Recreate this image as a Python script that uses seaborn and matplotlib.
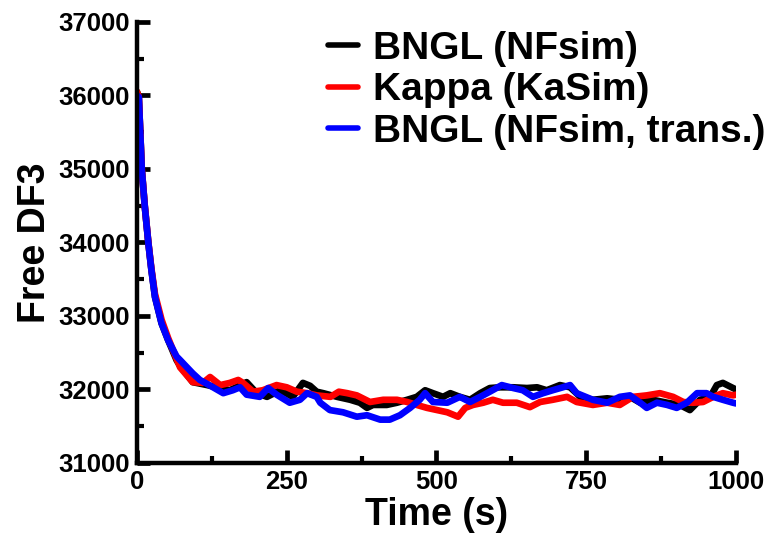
import matplotlib
matplotlib.use("Agg")
import matplotlib.pyplot as plt
import seaborn as sns
import pandas as pd

# Free DF3 trajectories from the three simulators
bngl_t = [0, 3, 8, 13, 19, 24, 30, 41, 52, 66,
          72, 93, 117, 155, 183, 200, 217, 239, 260, 277,
          289, 300, 311, 334, 356, 372, 384, 394, 417, 434,
          451, 467, 481, 494, 511, 523, 539, 556, 573, 589,
          606, 628, 651, 668, 684, 706, 723, 740, 761, 785,
          806, 823, 840, 861, 885, 906, 923, 940, 957, 968,
          978, 995, 1000]
bngl_v = [36050, 35980, 34990, 34490, 33990, 33630, 33260, 32900, 32670, 32400,
          32320, 32100, 32060, 31990, 32100, 31950, 31900, 31990, 31900, 32090,
          32050, 31970, 31950, 31900, 31860, 31820, 31750, 31790, 31790, 31820,
          31860, 31900, 31990, 31950, 31900, 31950, 31900, 31860, 31950, 32020,
          32030, 32030, 32020, 32030, 31990, 32060, 32030, 31900, 31860, 31880,
          31860, 31900, 31820, 31860, 31820, 31790, 31720, 31860, 31900, 32060,
          32090, 32020, 32000]

kappa_t = [0, 3, 8, 13, 19, 24, 30, 41, 52, 66,
           72, 93, 110, 122, 139, 155, 169, 177, 194, 210,
           233, 250, 267, 284, 300, 323, 337, 351, 367, 389,
           411, 434, 451, 467, 484, 501, 518, 536, 548, 561,
           578, 594, 611, 634, 656, 673, 694, 718, 734, 761,
           785, 806, 828, 851, 873, 895, 912, 928, 945, 962,
           978, 995, 1000]
kappa_v = [36050, 35980, 35000, 34500, 34000, 33650, 33300, 32950, 32700, 32420,
           32300, 32100, 32090, 32170, 32060, 32090, 32130, 32090, 31970, 31990,
           32060, 32030, 31970, 31950, 31920, 31900, 31970, 31950, 31920, 31830,
           31860, 31860, 31830, 31790, 31750, 31720, 31690, 31630, 31750, 31790,
           31820, 31860, 31820, 31820, 31760, 31830, 31860, 31900, 31830, 31790,
           31820, 31790, 31900, 31920, 31950, 31900, 31830, 31820, 31830, 31900,
           31950, 31920, 31930]

trans_t = [0, 3, 8, 13, 19, 24, 30, 41, 52, 66,
           72, 93, 105, 127, 144, 160, 172, 183, 205, 219,
           233, 255, 272, 284, 300, 306, 322, 344, 367, 384,
           406, 422, 439, 456, 472, 481, 494, 518, 539, 556,
           573, 589, 609, 628, 644, 661, 678, 694, 711, 723,
           734, 761, 785, 806, 823, 840, 851, 868, 885, 901,
           918, 935, 951, 962, 978, 995, 1000]
trans_v = [36000, 35980, 34990, 34490, 33990, 33630, 33260, 32900, 32670, 32450,
           32400, 32220, 32130, 32030, 31950, 31990, 32030, 31930, 31900, 32020,
           31930, 31820, 31860, 31950, 31900, 31820, 31720, 31690, 31630, 31650,
           31590, 31590, 31650, 31750, 31860, 31950, 31830, 31820, 31900, 31830,
           31900, 31970, 32060, 32020, 31990, 31900, 31950, 31990, 32030, 32060,
           31950, 31860, 31820, 31900, 31920, 31820, 31750, 31820, 31790, 31750,
           31820, 31950, 31950, 31900, 31860, 31820, 31810]

labels = ["BNGL (NFsim)", "Kappa (KaSim)", "BNGL (NFsim, trans.)"]
colors = ["#000000", "#ff0000", "#0000ff"]

sns.set_style("ticks")
plt.rcParams["font.family"] = ["Liberation Sans", "DejaVu Sans"]
plt.rcParams["font.weight"] = "bold"
plt.rcParams["text.color"] = "black"
plt.rcParams["axes.labelcolor"] = "black"
plt.rcParams["xtick.color"] = "black"
plt.rcParams["ytick.color"] = "black"

fig = plt.figure(figsize=(7.66, 5.34), dpi=100)
ax = fig.add_axes([137 / 766, 1 - 463 / 534, (736 - 137) / 766, (463 - 22) / 534])

for t, v, lab, c in zip([bngl_t, kappa_t, trans_t], [bngl_v, kappa_v, trans_v], labels, colors):
    df = pd.DataFrame({"Time (s)": t, "Free DF3": v})
    sns.lineplot(data=df, x="Time (s)", y="Free DF3", color=c, lw=4.8,
                 label=lab, ax=ax, sort=False, estimator=None)

ax.set_xlim(0, 1000)
ax.set_ylim(31000, 37000)
ax.set_xticks([0, 250, 500, 750, 1000])
ax.set_xticks([125, 375, 625, 875], minor=True)
ax.set_yticks(range(31000, 37001, 1000))
ax.set_yticks(range(31500, 37000, 1000), minor=True)

for side in ["top", "right"]:
    ax.spines[side].set_visible(False)
for side in ["left", "bottom"]:
    ax.spines[side].set_linewidth(3.2)
    ax.spines[side].set_color("black")

ax.tick_params(which="major", direction="in", length=9.5, width=3.4,
               labelsize=18.5, pad=5, colors="black", labelcolor="black")
ax.tick_params(which="minor", direction="in", length=5, width=3.0, colors="black")
for lbl in ax.get_xticklabels() + ax.get_yticklabels():
    lbl.set_fontweight("bold")
    lbl.set_color("black")

ax.set_xlabel("Time (s)", fontsize=27, fontweight="bold", labelpad=2, color="black")
ax.set_ylabel("Free DF3", fontsize=27, fontweight="bold", labelpad=4, color="black")

leg = ax.legend(loc="upper left", bbox_to_anchor=(328 / 766, 1 - 31 / 534),
                bbox_transform=fig.transFigure, frameon=False,
                prop={"size": 28, "weight": "bold"}, handlelength=0.78,
                handletextpad=0.38, labelspacing=0.14, borderpad=0, borderaxespad=0)
for line in leg.get_lines():
    line.set_linewidth(4)
for txt in leg.get_texts():
    txt.set_color("black")

fig.savefig("out.png", dpi=100)
